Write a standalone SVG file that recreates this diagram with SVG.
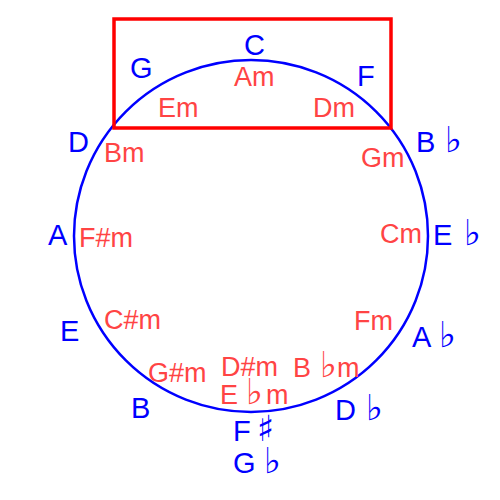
<svg xmlns="http://www.w3.org/2000/svg" width="500" height="500" viewBox="0 0 500 500">
<style>
.maj{font-family:"Liberation Sans",Arial,sans-serif;font-size:29px;fill:#0000ff}
.min{font-family:"Liberation Sans",Arial,sans-serif;font-size:27px;fill:#ff4444}
.acc{font-family:"DejaVu Sans",sans-serif;font-size:36px}
</style>
<rect width="500" height="500" fill="#ffffff"/>
<g id="circle"><ellipse cx="251" cy="236" rx="177" ry="176" fill="none" stroke="#0000ff" stroke-width="2.5"/></g>
<g id="highlight"><rect x="114" y="19" width="277" height="109" fill="none" stroke="#ff0000" stroke-width="3.5"/></g>
<g id="major">
<text class="maj" x="244" y="55">C</text>
<text class="maj" x="130" y="78">G</text>
<text class="maj" x="357" y="86">F</text>
<text class="maj" x="68" y="152">D</text>
<text class="maj" x="416" y="152">B <tspan class="acc" x="445">♭</tspan></text>
<text class="maj" x="48" y="245">A</text>
<text class="maj" x="433" y="245">E <tspan class="acc" x="464">♭</tspan></text>
<text class="maj" x="60" y="341">E</text>
<text class="maj" x="412" y="347">A <tspan class="acc" x="439">♭</tspan></text>
<text class="maj" x="131" y="418">B</text>
<text class="maj" x="335" y="420">D <tspan class="acc" x="366">♭</tspan></text>
<text class="maj" x="233" y="441">F<tspan class="acc" x="257" font-size="31">♯</tspan></text>
<text class="maj" x="233" y="473">G <tspan class="acc" x="264">♭</tspan></text>
</g>
<g id="minor">
<text class="min" x="234" y="86">Am</text>
<text class="min" x="158" y="117">Em</text>
<text class="min" x="313" y="117">Dm</text>
<text class="min" x="104" y="162">Bm</text>
<text class="min" x="361" y="167">Gm</text>
<text class="min" x="79" y="247">F#m</text>
<text class="min" x="380" y="243">Cm</text>
<text class="min" x="104" y="329">C#m</text>
<text class="min" x="354" y="330">Fm</text>
<text class="min" x="148" y="382">G#m</text>
<text class="min" x="221" y="376">D#m</text>
<text class="min" x="293" y="377" font-size="24">B <tspan class="acc" x="320" font-size="24">♭</tspan> <tspan x="337">m</tspan></text>
<text class="min" x="220" y="404">E <tspan class="acc" x="246" font-size="27">♭</tspan> <tspan x="266">m</tspan></text>
</g>
</svg>
